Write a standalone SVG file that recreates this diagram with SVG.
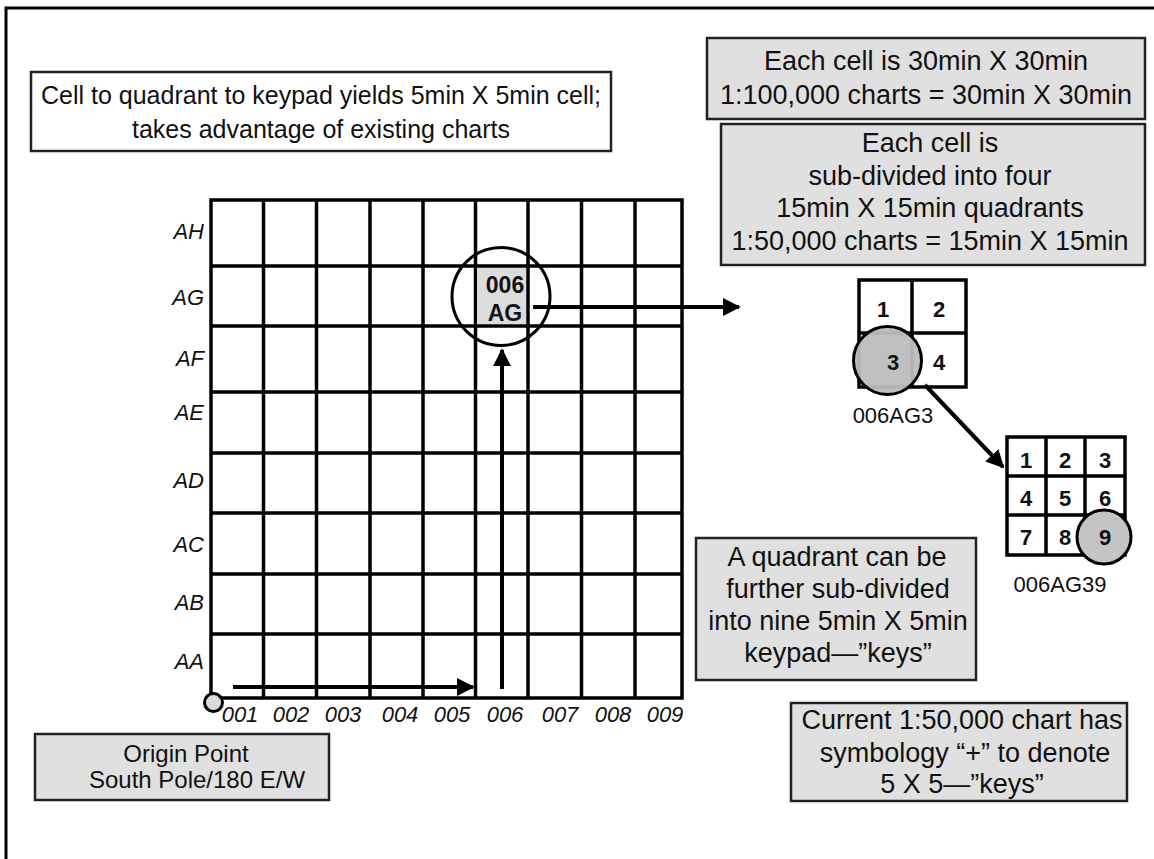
<svg xmlns="http://www.w3.org/2000/svg" width="1154" height="859" viewBox="0 0 1154 859">
<style>
  text { font-family: "Liberation Sans", Arial, sans-serif; fill: #111; }
  .box { stroke: #222; stroke-width: 2.5; }
  .gbox { fill: #e0e0e0; }
  .wbox { fill: #fff; }
  .t27 { font-size: 27px; }
  .t25 { font-size: 25px; }
  .t24 { font-size: 24px; }
  .t22 { font-size: 22px; }
  .lab { font-size: 22px; font-style: italic; }
  .num { font-size: 22px; font-weight: bold; }
  .grid { stroke: #000; stroke-width: 3.5; fill: none; }
  .arrow { stroke: #000; stroke-width: 4; fill: none; marker-end: url(#ah); }
  .ring { stroke: #000; stroke-width: 3; }
</style>
<defs>
  <marker id="ah" viewBox="0 0 10 10" refX="9" refY="5" markerWidth="4.5" markerHeight="4.5" orient="auto" markerUnits="strokeWidth">
    <path d="M0,0 L10,5 L0,10 z" fill="#000"/>
  </marker>
</defs>
<rect x="0" y="0" width="1154" height="859" fill="#fff"/>
<rect x="6" y="8" width="1160" height="870" fill="none" stroke="#000" stroke-width="3"/>

<g id="title-box">
  <rect class="box wbox" x="31" y="72" width="580" height="79"/>
  <text class="t25" x="321" y="104" text-anchor="middle">Cell to quadrant to keypad yields 5min X 5min cell;</text>
  <text class="t25" x="321" y="138" text-anchor="middle">takes advantage of existing charts</text>
</g>

<g id="cell-size-box">
  <rect class="box gbox" x="707" y="38" width="438" height="81"/>
  <text class="t27" x="926" y="70" text-anchor="middle">Each cell is 30min X 30min</text>
  <text class="t27" x="926" y="104" text-anchor="middle">1:100,000 charts = 30min X 30min</text>
</g>

<g id="quadrant-box">
  <rect class="box gbox" x="721" y="124" width="424" height="141"/>
  <text class="t27" x="930" y="152" text-anchor="middle">Each cell is</text>
  <text class="t27" x="930" y="185" text-anchor="middle">sub-divided into four</text>
  <text class="t27" x="930" y="217" text-anchor="middle">15min X 15min quadrants</text>
  <text class="t27" x="930" y="250" text-anchor="middle">1:50,000 charts = 15min X 15min</text>
</g>

<g id="grid">
  <rect class="grid" x="211" y="200" width="471" height="498"/>
  <path class="grid" d="M263.5,200V698 M316.5,200V698 M370,200V698 M423,200V698 M475.5,200V698 M528,200V698 M581.5,200V698 M635,200V698"/>
  <path class="grid" d="M211,266H682 M211,326H682 M211,392H682 M211,453H682 M211,513H682 M211,574H682 M211,634H682"/>
  <text class="lab" x="204" y="239" text-anchor="end">AH</text>
  <text class="lab" x="204" y="305" text-anchor="end">AG</text>
  <text class="lab" x="204" y="366" text-anchor="end">AF</text>
  <text class="lab" x="204" y="420" text-anchor="end">AE</text>
  <text class="lab" x="204" y="488" text-anchor="end">AD</text>
  <text class="lab" x="204" y="552" text-anchor="end">AC</text>
  <text class="lab" x="204" y="610" text-anchor="end">AB</text>
  <text class="lab" x="204" y="669" text-anchor="end">AA</text>
  <text class="lab" x="240" y="722" text-anchor="middle">001</text>
  <text class="lab" x="291" y="722" text-anchor="middle">002</text>
  <text class="lab" x="343" y="722" text-anchor="middle">003</text>
  <text class="lab" x="400" y="722" text-anchor="middle">004</text>
  <text class="lab" x="452" y="722" text-anchor="middle">005</text>
  <text class="lab" x="505" y="722" text-anchor="middle">006</text>
  <text class="lab" x="560" y="722" text-anchor="middle">007</text>
  <text class="lab" x="613" y="722" text-anchor="middle">008</text>
  <text class="lab" x="665" y="722" text-anchor="middle">009</text>
</g>

<g id="cell-006AG">
  <rect x="477" y="268" width="49" height="56" fill="#dcdcdc"/>
  <circle class="ring" cx="501" cy="296.5" r="49" fill="none"/>
  <text x="505" y="293" text-anchor="middle" font-size="23" font-weight="bold">006</text>
  <text x="505" y="321" text-anchor="middle" font-size="23" font-weight="bold">AG</text>
</g>

<g id="origin">
  <circle cx="213.5" cy="702.5" r="9" fill="#dcdcdc" stroke="#000" stroke-width="3"/>
</g>

<g id="origin-box">
  <rect class="box gbox" x="35" y="734" width="294" height="66"/>
  <text class="t24" x="186" y="762" text-anchor="middle">Origin Point</text>
  <text class="t24" x="197" y="788" text-anchor="middle">South Pole/180 E/W</text>
</g>

<g id="quadrant">
  <rect x="859" y="280" width="107" height="107" fill="#fff" stroke="#000" stroke-width="3.5"/>
  <path d="M912,280V387 M859,333H966" stroke="#000" stroke-width="3.5"/>
  <circle class="ring" cx="887.5" cy="360.5" r="34" fill="#bdbdbd" fill-opacity="0.95"/>
  <text class="num" x="883" y="317" text-anchor="middle">1</text>
  <text class="num" x="939" y="317" text-anchor="middle">2</text>
  <text class="num" x="893" y="370" text-anchor="middle">3</text>
  <text class="num" x="939" y="370" text-anchor="middle">4</text>
  <text class="t22" x="893" y="423" text-anchor="middle">006AG3</text>
</g>

<g id="keypad">
  <rect x="1007" y="437" width="118" height="118" fill="#fff" stroke="#000" stroke-width="3.5"/>
  <path d="M1046,437V555 M1085,437V555 M1007,476H1125 M1007,515H1125" stroke="#000" stroke-width="3.5"/>
  <circle class="ring" cx="1104" cy="537" r="27" fill="#c4c4c4"/>
  <text class="num" x="1026" y="468" text-anchor="middle">1</text>
  <text class="num" x="1065" y="468" text-anchor="middle">2</text>
  <text class="num" x="1105" y="468" text-anchor="middle">3</text>
  <text class="num" x="1026" y="506" text-anchor="middle">4</text>
  <text class="num" x="1065" y="506" text-anchor="middle">5</text>
  <text class="num" x="1105" y="506" text-anchor="middle">6</text>
  <text class="num" x="1026" y="545" text-anchor="middle">7</text>
  <text class="num" x="1065" y="545" text-anchor="middle">8</text>
  <text class="num" x="1105" y="545" text-anchor="middle">9</text>
  <text class="t22" x="1060" y="592" text-anchor="middle">006AG39</text>
</g>

<g id="subdivide-box">
  <rect class="box gbox" x="696" y="538" width="280" height="142"/>
  <text class="t27" x="837" y="566" text-anchor="middle">A quadrant can be</text>
  <text class="t27" x="838" y="598" text-anchor="middle">further sub-divided</text>
  <text class="t27" x="838" y="630" text-anchor="middle">into nine 5min X 5min</text>
  <text class="t27" x="838" y="662" text-anchor="middle">keypad—”keys”</text>
</g>

<g id="chart-box">
  <rect class="box gbox" x="791" y="703" width="336" height="98"/>
  <text class="t27" x="962" y="729" text-anchor="middle">Current 1:50,000 chart has</text>
  <text class="t27" x="965" y="762" text-anchor="middle">symbology “+” to denote</text>
  <text class="t27" x="962" y="793" text-anchor="middle">5 X 5—”keys”</text>
</g>

<g id="connectors">
  <path class="arrow" d="M233,687H473"/>
  <path class="arrow" d="M502,689V350"/>
  <path class="arrow" d="M533,307H739"/>
  <path class="arrow" d="M925,385L1003,467"/>
</g>
</svg>
